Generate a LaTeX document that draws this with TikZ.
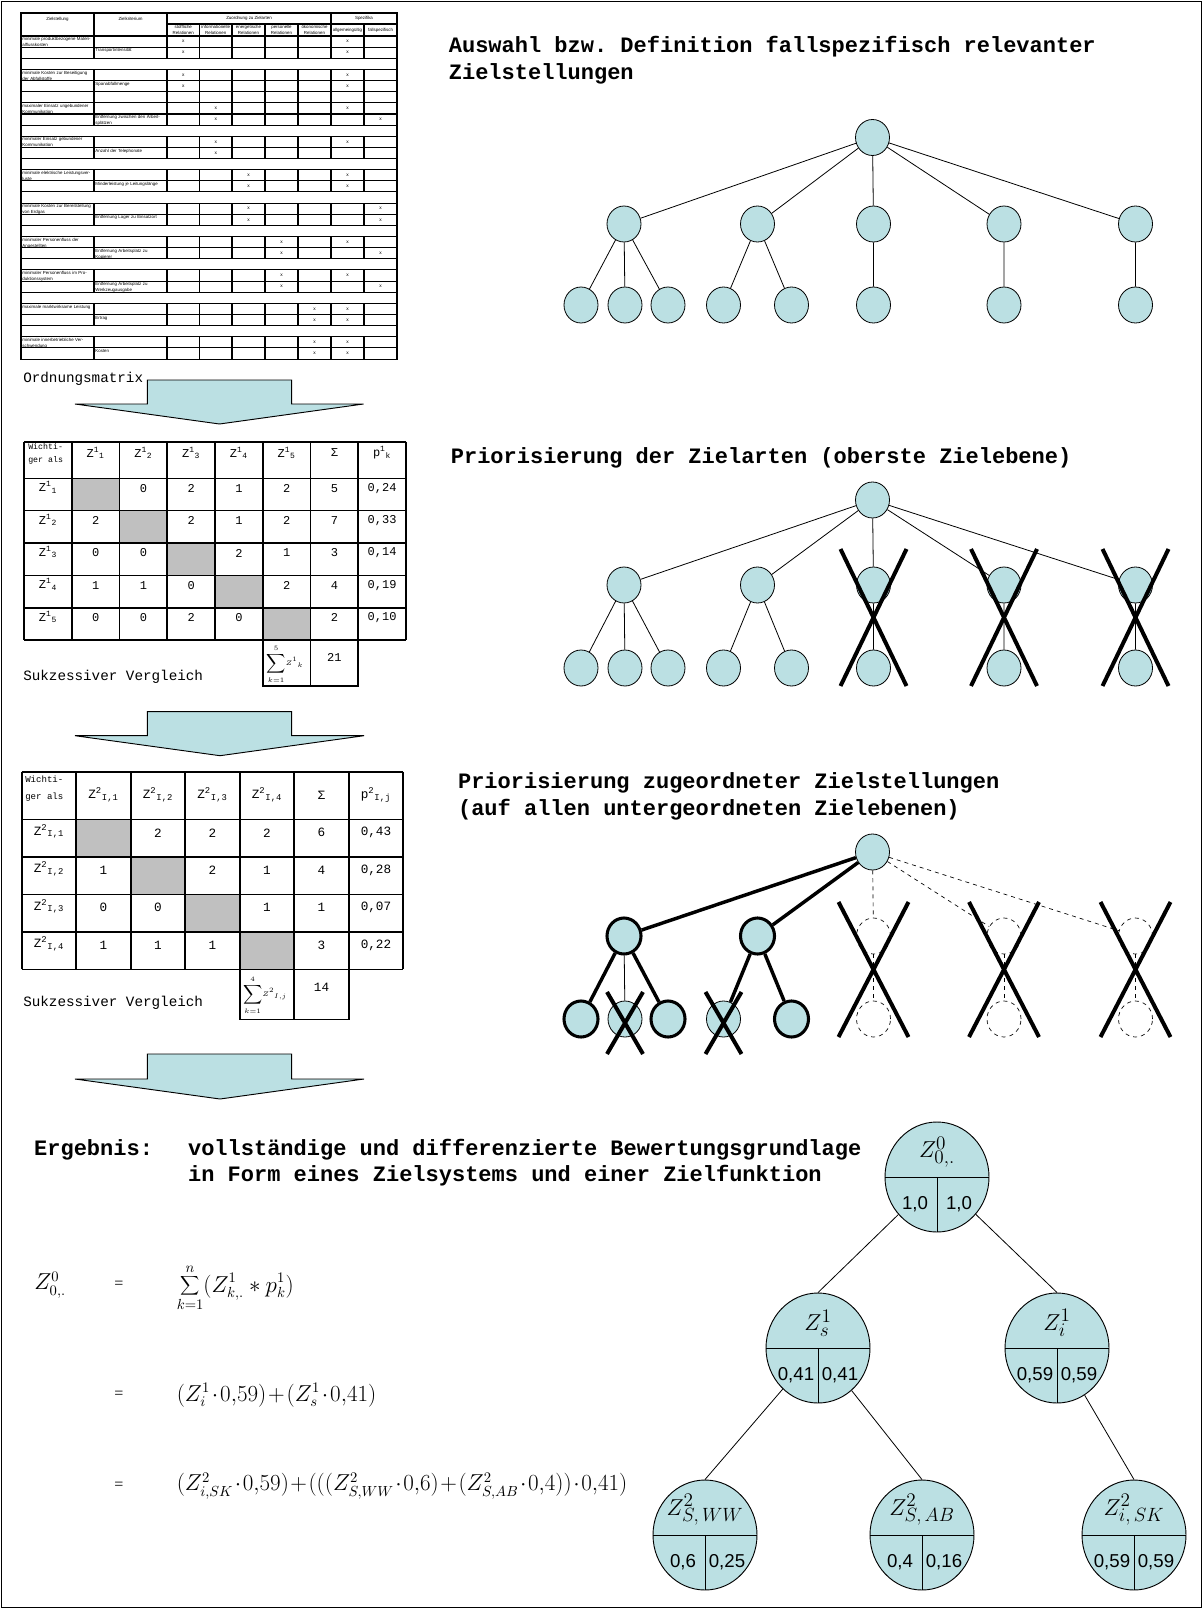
\documentclass[tikz,border=0pt]{standalone}
\usepackage{fontspec}
\setmainfont{Liberation Serif}
\setsansfont{Liberation Sans}
\setmonofont{Liberation Mono}
\usetikzlibrary{calc,shapes.geometric}
\definecolor{nfill}{RGB}{187,224,227}
\definecolor{cgray}{RGB}{192,192,192}
\newcommand{\zsup}[3]{#1\textsuperscript{#2}\textsubscript{#3}}
\begin{document}
\begin{tikzpicture}[x=0.75pt,y=-0.75pt,
  tbl/.style={line width=0.8pt},
  ttxt/.style={font=\fontsize{3.3}{4.5}\selectfont\sffamily, inner sep=0.5pt, anchor=north west, text width=52pt, align=left},
  xm/.style={font=\fontsize{3.6}{4}\selectfont\sffamily, inner sep=0},
  hdr/.style={font=\fontsize{3.3}{4.2}\selectfont\sffamily, inner sep=0, align=center},
  ttl/.style={font=\fontsize{16.5}{20}\selectfont\ttfamily\bfseries, anchor=west, inner sep=0},
  lbl/.style={font=\fontsize{10.7}{13}\selectfont\ttfamily, anchor=west, inner sep=0},
  arr/.style={fill=nfill, draw=black, line width=0.7pt, line join=miter},
  mline/.style={line width=1.2pt},
  ma/.style={font=\fontsize{9}{10}\selectfont\ttfamily, inner sep=0},
  mb/.style={font=\fontsize{9.5}{10}\selectfont\ttfamily, inner sep=0},
  mwa/.style={font=\fontsize{6.2}{9.2}\selectfont\ttfamily, inner sep=0, anchor=north west, align=left},
  mwb/.style={font=\fontsize{6.8}{12.5}\selectfont\ttfamily, inner sep=0, anchor=north west, align=left},
  tn/.style={ellipse, draw, fill=nfill, line width=0.6pt, minimum width=25.5pt, minimum height=27pt, inner sep=0},
  tk/.style={tn, line width=2.3pt},
  td/.style={ellipse, draw, dashed, line width=0.5pt, minimum width=25.5pt, minimum height=27pt, inner sep=0},
  edge/.style={line width=0.6pt},
  tedge/.style={line width=2.6pt},
  dedge/.style={dashed, line width=0.5pt},
  cross/.style={line width=3pt},
  rn/.style={ellipse, draw, fill=nfill, line width=0.7pt, minimum width=78pt, minimum height=82.5pt, inner sep=0},
  rdiv/.style={line width=0.7pt},
  zl/.style={font=\fontsize{19}{19}\selectfont, inner sep=0},
  nl/.style={font=\fontsize{14}{14}\selectfont\sffamily, inner sep=0},
  fm/.style={font=\fontsize{16}{16}\selectfont, anchor=west, inner sep=0},
  eq/.style={font=\fontsize{12}{12}\selectfont, anchor=west, inner sep=0}
]
\useasboundingbox (0,0) rectangle (1203,1609);
\draw[line width=1.1pt] (1.5,1.5) rectangle (1201.5,1607.5);

% ---------------- top-left table
\draw[tbl] (21,13) rectangle (397,359.06);
\draw[tbl] (167,24) -- (397,24);
\foreach \x in {94,167,331} \draw[tbl] (\x,13) -- (\x,36);
\foreach \x in {199.5,232,265,298,364} \draw[tbl] (\x,24) -- (\x,36);
\foreach \i in {0,...,28} \draw[tbl] (21,{36+\i*11.14}) -- (397,{36+\i*11.14});
\foreach \i in {1,2,4,5,6,7,8,10,11,13,14,16,17,19,20,22,23,25,26,28,29}
  \foreach \x in {94,167,199.5,232,265,298,331,364}
    \draw[tbl] (\x,{36+(\i-1)*11.14}) -- (\x,{36+\i*11.14});
\node[hdr] (h1) at (57.5,19) {Zielstellung};
\node[hdr] (h2) at (130.5,19) {Zielkriterium};
\node[hdr] (h3) at (249,18.5) {Zuordnung zu Zielarten};
\node[hdr] (h4) at (364,18.5) {Spezifika};
\foreach \x/\t [count=\k] in {183.25/{stoffliche\\Relationen}, 215.75/{informationelle\\Relationen}, 248.5/{energetische\\Relationen}, 281.5/{personelle\\Relationen}, 314.5/{ökonomische\\Relationen}, 347.5/{allgemeingültig}, 380.5/{fallspezifisch}}
  \node[hdr] (hs\k) at (\x,30) {\t};
\foreach \i/\t in {1/minimale produktbezogene Materialflusskosten, 4/minimale Kosten zur Beseitigung der Abfallstoffe, 7/maximaler Einsatz ungebundener Kommunikation, 10/minimaler Einsatz gebundener Kommunikation, 13/minimale elektrische Leistungsverluste, 16/minimale Kosten zur Bereitstellung von Erdgas, 19/minimaler Personenfluss der Angestellten, 22/minimaler Personenfluss im Produktionssystem, 25/maximale marktwirksame Leistung, 28/minimale innerbetriebliche Verschwendung}
  \node[ttxt] (za\i) at (21.5,{36.6+(\i-1)*11.14}) {\t};
\foreach \i/\t in {2/Transportintensität, 5/Spanabfallmenge, 8/Entfernung zwischen den Arbeitsplätzen, 11/Anzahl der Telephonate, 14/Minderleistung je Leitungslänge, 17/Entfernung Lager zu Einsatzort, 20/Entfernung Arbeitsplatz zu Kopierer, 23/Entfernung Arbeitsplatz zu Werkzeugausgabe, 26/Ertrag, 29/Kosten}
  \node[ttxt] (zb\i) at (94.5,{36.6+(\i-1)*11.14}) {\t};
\foreach \i/\x [count=\k] in {1/183.25,1/347.5,2/183.25,2/347.5,4/183.25,4/347.5,5/183.25,5/347.5,7/215.75,7/347.5,8/215.75,8/380.5,10/215.75,10/347.5,11/215.75,13/248.5,13/347.5,14/248.5,14/347.5,16/248.5,16/380.5,17/248.5,17/380.5,19/281.5,19/347.5,20/281.5,20/380.5,22/281.5,22/347.5,23/281.5,23/380.5,25/314.5,25/347.5,26/314.5,26/347.5,28/314.5,28/347.5,29/314.5,29/347.5}
  \node[xm] (xm\k) at (\x,{36+(\i-0.5)*11.14}) {x};

% ---------------- arrow 1
\node[lbl] (ordm) at (23,379) {Ordnungsmatrix};
\draw[arr] (147.3,380) -- (291.7,380) -- (291.7,404) -- (363.5,404) -- (219.5,424) -- (75,404) -- (147.3,404) -- cycle;

% ---------------- matrix 1
\foreach \i in {1,...,5} \fill[cgray] ({24+47.75*\i},{478.3+(\i-1)*32.35}) rectangle ({24+47.75*(\i+1)},{478.3+\i*32.35});
\foreach \y in {441.7,478.3,510.65,543,575.35,607.7,640.05} \draw[mline] (24,\y) -- (406,\y);
\foreach \k in {0,...,8} \draw[mline] ({24+47.75*\k},441.7) -- ({24+47.75*\k},640.05);
\draw[mline] (262.75,640.05) rectangle (358.25,686) (310.5,640.05) -- (310.5,686);
\node[mwa] (m1w) at (28,443.5) {Wichti-\\ger als};
\foreach \k in {1,...,5} \node[ma] (m1h\k) at ({24+47.75*(\k+0.5)},453) {\zsup{Z}{1}{\k}};
\node[ma] (m1hs) at (334.4,453) {Σ};
\node[ma] (m1hp) at (382.1,453) {\zsup{p}{1}{k}};
\foreach \k in {1,...,5} \node[ma] (m1r\k) at (47.9,{478.3+(\k-1)*32.35+9}) {\zsup{Z}{1}{\k}};
\foreach \c/\v in {3/0,4/2,5/1,6/2,7/5,8/{0,24}} \node[ma] (m1v1\c) at ({24+47.75*(\c-0.5)},488.3) {\v};
\foreach \c/\v in {2/2,4/2,5/1,6/2,7/7,8/{0,33}} \node[ma] (m1v2\c) at ({24+47.75*(\c-0.5)},520.65) {\v};
\foreach \c/\v in {2/0,3/0,5/2,6/1,7/3,8/{0,14}} \node[ma] (m1v3\c) at ({24+47.75*(\c-0.5)},553) {\v};
\foreach \c/\v in {2/1,3/1,4/0,6/2,7/4,8/{0,19}} \node[ma] (m1v4\c) at ({24+47.75*(\c-0.5)},585.35) {\v};
\foreach \c/\v in {2/0,3/0,4/2,5/0,7/2,8/{0,10}} \node[ma] (m1v5\c) at ({24+47.75*(\c-0.5)},617.7) {\v};
\node[inner sep=0, font=\fontsize{5}{5}\selectfont] (m1sum) at (285,664) {$\displaystyle\sum_{k=1}^{5}\!Z^{1}{}_{k}$};
\node[ma] (m1tot) at (334.4,657) {21};
\node[lbl] (suk1) at (23,677) {Sukzessiver Vergleich};

% ---------------- arrow 2
\draw[arr] (147.3,711.7) -- (291.7,711.7) -- (291.7,735.7) -- (364,735.7) -- (220,755.7) -- (75,735.7) -- (147.3,735.7) -- cycle;

% ---------------- matrix 2
\foreach \i in {1,...,4} \fill[cgray] ({21.7+54.5*\i},{819.3+(\i-1)*37.5}) rectangle ({21.7+54.5*(\i+1)},{819.3+\i*37.5});
\foreach \y in {771.7,819.3,856.8,894.3,931.8,969.3} \draw[mline] (21.7,\y) -- (403.2,\y);
\foreach \k in {0,...,7} \draw[mline] ({21.7+54.5*\k},771.7) -- ({21.7+54.5*\k},969.3);
\draw[mline] (239.7,969.3) rectangle (348.7,1019.3) (294.2,969.3) -- (294.2,1019.3);
\node[mwb] (m2w) at (25,775.5) {Wichti-\\ger als};
\foreach \k in {1,...,4} \node[mb] (m2h\k) at ({21.7+54.5*(\k+0.5)},795) {\zsup{Z}{2}{I,\k}};
\node[mb] (m2hs) at (321.5,795) {Σ};
\node[mb] (m2hp) at (376,795) {\zsup{p}{2}{I,j}};
\foreach \k in {1,...,4} \node[mb] (m2r\k) at (49,{819.3+(\k-1)*37.5+12}) {\zsup{Z}{2}{I,\k}};
\foreach \c/\v in {3/2,4/2,5/2,6/6,7/{0,43}} \node[mb] (m2v1\c) at ({21.7+54.5*(\c-0.5)},832.8) {\v};
\foreach \c/\v in {2/1,4/2,5/1,6/4,7/{0,28}} \node[mb] (m2v2\c) at ({21.7+54.5*(\c-0.5)},870.3) {\v};
\foreach \c/\v in {2/0,3/0,5/1,6/1,7/{0,07}} \node[mb] (m2v3\c) at ({21.7+54.5*(\c-0.5)},907.8) {\v};
\foreach \c/\v in {2/1,3/1,4/1,6/3,7/{0,22}} \node[mb] (m2v4\c) at ({21.7+54.5*(\c-0.5)},945.3) {\v};
\node[inner sep=0, font=\fontsize{5.5}{5.5}\selectfont] (m2sum) at (265,995) {$\displaystyle\sum_{k=1}^{4}\!Z^{2}{}_{I,j}$};
\node[mb] (m2tot) at (321.5,987) {14};
\node[lbl] (suk2) at (23,1003) {Sukzessiver Vergleich};

% ---------------- arrow 3
\draw[arr] (147.3,1054) -- (291.7,1054) -- (291.7,1079) -- (364,1079) -- (220,1099) -- (75,1079) -- (147.3,1079) -- cycle;

% ---------------- titles
\node[ttl] (t1a) at (448.6,47) {Auswahl bzw. Definition fallspezifisch relevanter};
\node[ttl] (t1b) at (448.6,74) {Zielstellungen};
\node[ttl] (t2) at (450.6,458) {Priorisierung der Zielarten (oberste Zielebene)};
\node[ttl] (t3a) at (457.8,783) {Priorisierung zugeordneter Zielstellungen};
\node[ttl] (t3b) at (457.8,810) {(auf allen untergeordneten Zielebenen)};
\node[ttl] (t4a) at (33.9,1150) {Ergebnis:};
\node[ttl] (t4b) at (187.8,1150) {vollständige und differenzierte Bewertungsgrundlage};
\node[ttl] (t4c) at (187.8,1176) {in Form eines Zielsystems und einer Zielfunktion};

% ---------------- tree 1
\node[tn] (a0) at (872.5,137.5) {};
\foreach \x [count=\k] in {624,757.5,873.5,1004,1135.5} \node[tn] (a\k) at (\x,224) {};
\foreach \x [count=\k] in {581,625,668,723.5,791.5,873.5,1004,1135.5} \node[tn] (al\k) at (\x,305) {};
\foreach \k in {1,...,5} \draw[edge] (a0) -- (a\k);
\draw[edge] (a1) -- (al1) (a1) -- (al2) (a1) -- (al3) (a2) -- (al4) (a2) -- (al5) (a3) -- (al6) (a4) -- (al7) (a5) -- (al8);

% ---------------- tree 2
\node[tn] (b0) at (872.5,500) {};
\foreach \x [count=\k] in {624,757.5,873.5,1004,1135.5} \node[tn] (b\k) at (\x,585) {};
\foreach \x [count=\k] in {581,625,668,723.5,791.5,873.5,1004,1135.5} \node[tn] (bl\k) at (\x,668) {};
\foreach \k in {1,...,5} \draw[edge] (b0) -- (b\k);
\draw[edge] (b1) -- (bl1) (b1) -- (bl2) (b1) -- (bl3) (b2) -- (bl4) (b2) -- (bl5) (b3) -- (bl6) (b4) -- (bl7) (b5) -- (bl8);
\foreach \x in {873.5,1004,1135.5} \draw[cross] ({\x-33},549) -- ({\x+33},686) ({\x+33},549) -- ({\x-33},686);

% ---------------- tree 3
\node[tn] (c0) at (872.5,852) {};
\node[tk] (c1) at (624,936) {};
\node[tk] (c2) at (757.5,936) {};
\foreach \x [count=\k from 3] in {873.5,1004,1135.5} \node[td] (c\k) at (\x,936) {};
\node[tk] (cl1) at (581,1019) {};
\node[tn] (cl2) at (625,1019) {};
\node[tk] (cl3) at (668,1019) {};
\node[tn] (cl4) at (723.5,1019) {};
\node[tk] (cl5) at (791.5,1019) {};
\foreach \x [count=\k from 6] in {873.5,1004,1135.5} \node[td] (cl\k) at (\x,1019) {};
\draw[tedge] (c0) -- (c1) (c0) -- (c2);
\draw[dedge] (c0) -- (c3) (c0) -- (c4) (c0) -- (c5);
\draw[tedge] (c1) -- (cl1) (c1) -- (cl3) (c2) -- (cl4) (c2) -- (cl5);
\draw[edge] (c1) -- (cl2);
\draw[dedge] (c3) -- (cl6) (c4) -- (cl7) (c5) -- (cl8);
\foreach \x in {873.5,1004,1135.5} \draw[cross] ({\x-35},902) -- ({\x+35},1037) ({\x+35},902) -- ({\x-35},1037);
\foreach \x in {625,723.5} \draw[cross] ({\x-18},992) -- ({\x+18},1054) ({\x+18},992) -- ({\x-18},1054);

% ---------------- formulas
\node[fm] (f1z) at (34,1285) {$Z^{0}_{0,.}$};
\node[eq] (f1e) at (114,1285) {=};
\node[fm] (f1r) at (176.5,1288) {$\displaystyle\sum_{k=1}^{n}(Z^{1}_{k,.} * p^{1}_{k})$};
\node[eq] (f2e) at (114,1395) {=};
\node[fm] (f2r) at (176.5,1395) {$\medmuskip=1.5mu (Z^{1}_{i}\cdot 0{,}59)+(Z^{1}_{s}\cdot 0{,}41)$};
\node[eq] (f3e) at (114,1486) {=};
\node[fm] (f3r) at (176.5,1486) {$\medmuskip=1.2mu (Z^{2}_{i,SK}\cdot 0{,}59)+(((Z^{2}_{S,WW}\cdot 0{,}6)+(Z^{2}_{S,AB}\cdot 0{,}4))\cdot 0{,}41)$};

% ---------------- result tree
\node[rn] (r0) at (937,1177) {};
\node[rn] (rs) at (818,1348) {};
\node[rn] (ri) at (1057,1348) {};
\node[rn] (rww) at (705,1535) {};
\node[rn] (rab) at (922,1535) {};
\node[rn] (rsk) at (1134,1535) {};
\draw[edge] (r0) -- (rs.north) (r0) -- (ri.north) (rs) -- (rww.north) (rs) -- (rab.north) (ri) -- (rsk.north);
\foreach \n/\z/\a/\b in {r0/{Z^{0}_{0,.}}/{1,0}/{1,0}, rs/{Z^{1}_{s}}/{0,41}/{0,41}, ri/{Z^{1}_{i}}/{0,59}/{0,59}, rww/{Z^{2}_{S,\,WW}}/{0,6}/{0,25}, rab/{Z^{2}_{S,\,AB}}/{0,4}/{0,16}, rsk/{Z^{2}_{i,\,SK}}/{0,59}/{0,59}}{
  \draw[rdiv] (\n.west) -- (\n.east) (\n.center) -- (\n.south);
  \node[zl] (\n-z) at ($(\n)+(0,-25)$) {$\z$};
  \node[nl] (\n-a) at ($(\n)+(-22,27)$) {\a};
  \node[nl] (\n-b) at ($(\n)+(22,27)$) {\b};
}
\end{tikzpicture}
\end{document}
